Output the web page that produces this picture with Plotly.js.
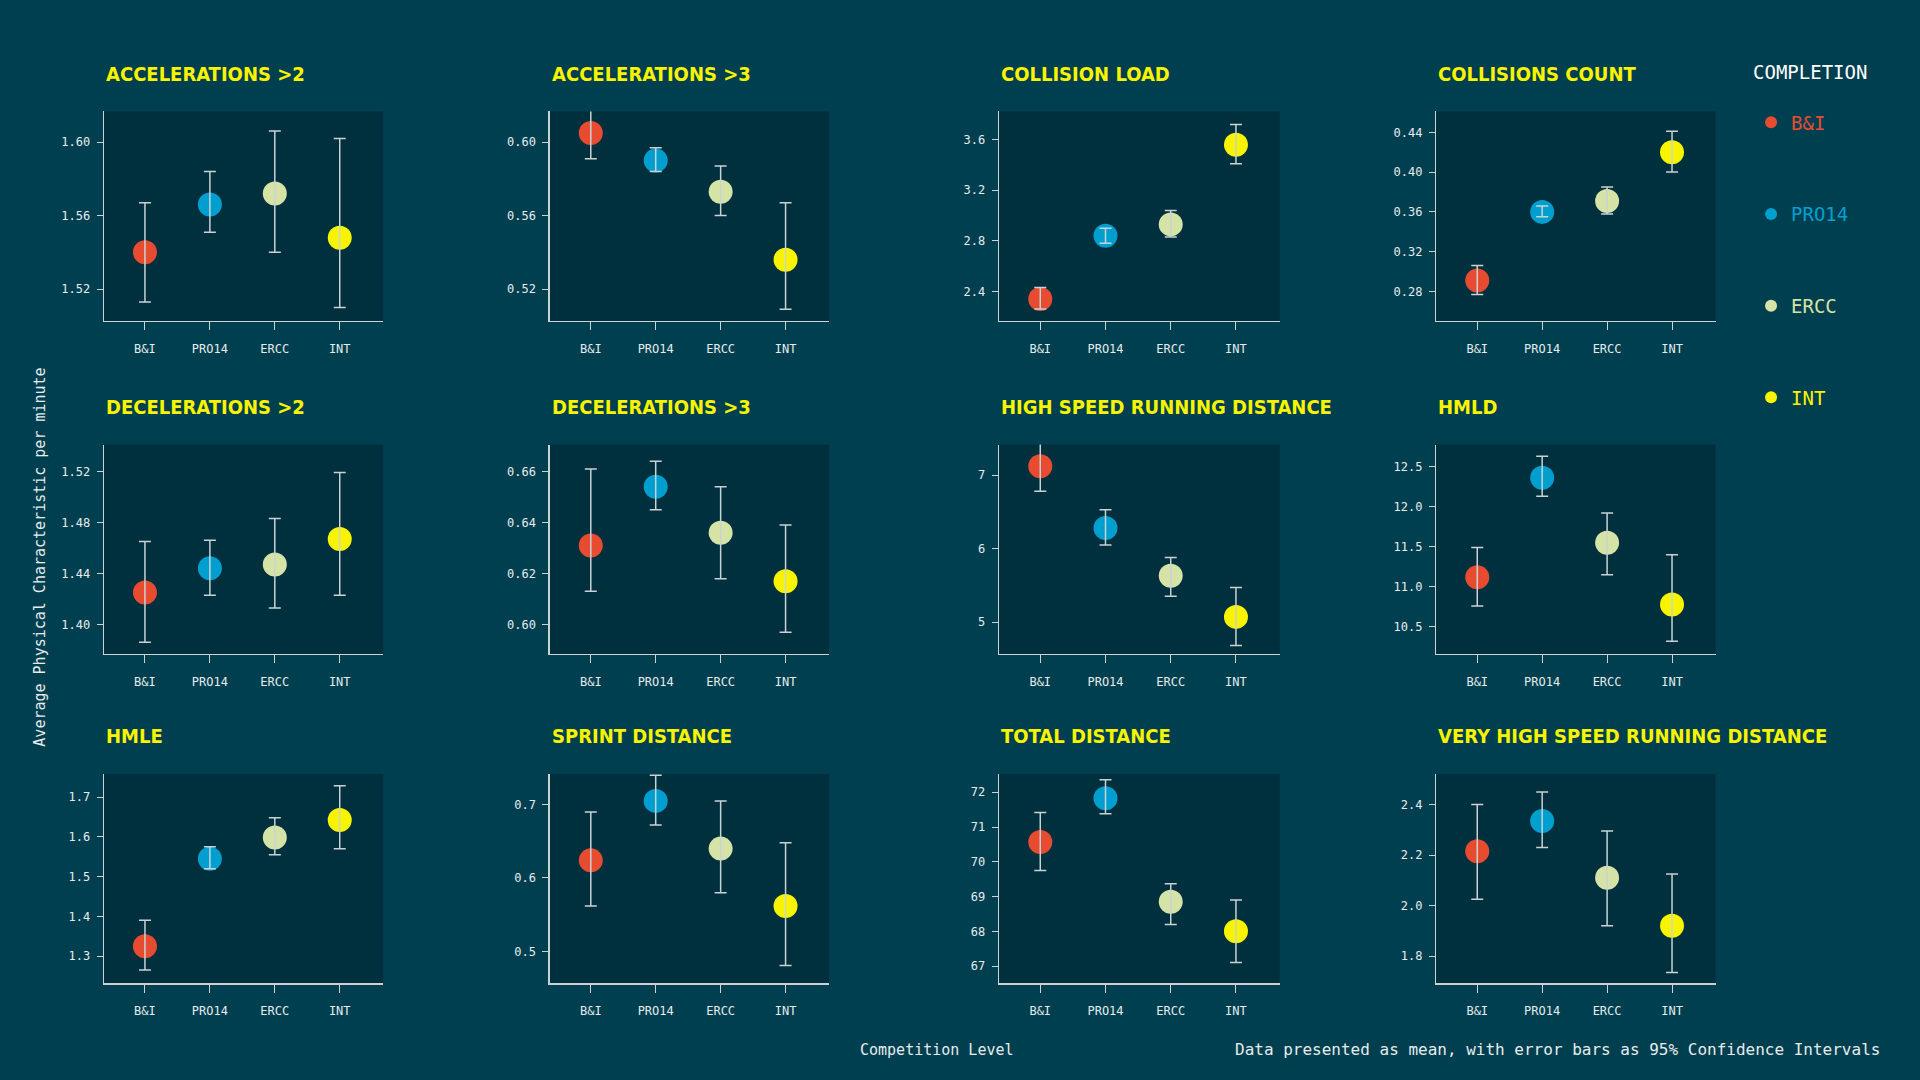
<!DOCTYPE html>
<html>
<head>
<meta charset="utf-8">
<script src="https://cdn.plot.ly/plotly-3.0.1.min.js"></script>
<style>html,body{margin:0;padding:0;background:#003f50;}#chart{width:1920px;height:1080px;}</style>
</head>
<body>
<div id="chart"></div>
<script>
const levels = ['B&I', 'PRO14', 'ERCC', 'INT'];
const levelColors = ['#e84c30', '#009fd0', '#d6e3a6', '#f8f400'];

const metrics = [
	'ACCELERATIONS >2', 'ACCELERATIONS >3', 'COLLISION LOAD', 'COLLISIONS COUNT',
	'DECELERATIONS >2', 'DECELERATIONS >3', 'HIGH SPEED RUNNING DISTANCE', 'HMLD',
	'HMLE', 'SPRINT DISTANCE', 'TOTAL DISTANCE', 'VERY HIGH SPEED RUNNING DISTANCE'
];

// mean per metric, order B&I, PRO14, ERCC, INT
const means = [
	[1.540, 1.566, 1.572, 1.548],
	[0.605, 0.590, 0.573, 0.536],
	[2.34, 2.84, 2.93, 3.56],
	[0.291, 0.360, 0.371, 0.420],
	[1.425, 1.444, 1.447, 1.467],
	[0.631, 0.654, 0.636, 0.617],
	[7.12, 6.28, 5.63, 5.07],
	[11.12, 12.36, 11.55, 10.78],
	[1.325, 1.545, 1.598, 1.642],
	[0.624, 0.705, 0.640, 0.562],
	[70.57, 71.83, 68.85, 68.00],
	[2.215, 2.335, 2.110, 1.920]
];
const lower = [
	[1.513, 1.551, 1.540, 1.510],
	[0.591, 0.584, 0.560, 0.509],
	[2.26, 2.78, 2.83, 3.41],
	[0.277, 0.355, 0.358, 0.400],
	[1.386, 1.423, 1.413, 1.423],
	[0.613, 0.645, 0.618, 0.597],
	[6.78, 6.05, 5.35, 4.68],
	[10.76, 12.13, 11.15, 10.32],
	[1.265, 1.520, 1.555, 1.570],
	[0.562, 0.672, 0.580, 0.481],
	[69.75, 71.38, 68.20, 67.10],
	[2.025, 2.230, 1.920, 1.735]
];
const upper = [
	[1.567, 1.584, 1.606, 1.602],
	[0.618, 0.597, 0.587, 0.567],
	[2.43, 2.90, 3.04, 3.72],
	[0.306, 0.366, 0.385, 0.441],
	[1.465, 1.466, 1.483, 1.519],
	[0.661, 0.664, 0.654, 0.639],
	[7.45, 6.53, 5.88, 5.47],
	[11.49, 12.63, 11.92, 11.40],
	[1.390, 1.575, 1.648, 1.728],
	[0.690, 0.740, 0.705, 0.648],
	[71.42, 72.36, 69.37, 68.90],
	[2.400, 2.450, 2.295, 2.125]
];
const yRanges = [
	[1.5027, 1.6167], [0.5027, 0.6167], [2.166, 3.824], [0.2504, 0.461],
	[1.377, 1.541], [0.5885, 0.6706], [4.567, 7.417], [10.164, 12.775],
	[1.232, 1.758], [0.4567, 0.7417], [66.507, 72.528], [1.693, 2.521]
];
const yTicks = [
	[1.52, 1.56, 1.60], [0.52, 0.56, 0.60], [2.4, 2.8, 3.2, 3.6], [0.28, 0.32, 0.36, 0.40, 0.44],
	[1.40, 1.44, 1.48, 1.52], [0.60, 0.62, 0.64, 0.66], [5, 6, 7], [10.5, 11.0, 11.5, 12.0, 12.5],
	[1.3, 1.4, 1.5, 1.6, 1.7], [0.5, 0.6, 0.7], [67, 68, 69, 70, 71, 72], [1.8, 2.0, 2.2, 2.4]
];
const yTickText = [
	['1.52', '1.56', '1.60'], ['0.52', '0.56', '0.60'], ['2.4', '2.8', '3.2', '3.6'], ['0.28', '0.32', '0.36', '0.40', '0.44'],
	['1.40', '1.44', '1.48', '1.52'], ['0.60', '0.62', '0.64', '0.66'], ['5', '6', '7'], ['10.5', '11.0', '11.5', '12.0', '12.5'],
	['1.3', '1.4', '1.5', '1.6', '1.7'], ['0.5', '0.6', '0.7'], ['67', '68', '69', '70', '71', '72'], ['1.8', '2.0', '2.2', '2.4']
];

const colDomains = [[0.0542, 0.1996], [0.2864, 0.4318], [0.5204, 0.6665], [0.7481, 0.8935]];
const rowDomains = [[0.7029, 0.8968], [0.3946, 0.5884], [0.0896, 0.2834]];

const mono = 'DejaVu Sans Mono, monospace';
const axisColor = '#c9d3d4';
const data = [];
const errorTraces = [];
const layout = {
	width: 1920,
	height: 1080,
	paper_bgcolor: '#003f50',
	plot_bgcolor: '#002f3e',
	margin: { t: 0, l: 0, r: 0, b: 0 },
	font: { family: mono, color: '#e6ecec', size: 12 },
	showlegend: true,
	legend: {
		x: 0.912, y: 0.95, xanchor: 'left', yanchor: 'top',
		bgcolor: 'rgba(0,0,0,0)',
		font: { family: mono, size: 19 },
		title: { text: 'COMPLETION<br> ', font: { family: mono, size: 19, color: '#ffffff' } },
		tracegroupgap: 64,
		itemsizing: 'constant',
	},
	annotations: [],
};

metrics.forEach((metric, m) => {
	const row = Math.floor(m / 4);
	const col = m % 4;
	const n = m + 1;
	const sfx = n === 1 ? '' : String(n);

	levels.forEach((level, i) => {
		data.push({
			type: 'scatter',
			mode: 'markers',
			x: [level],
			y: [means[m][i]],
			xaxis: 'x' + sfx,
			yaxis: 'y' + sfx,
			name: '<span style="color:' + levelColors[i] + '">' + level + '</span>',
			legendgroup: level,
			showlegend: m === 0,
			marker: { color: levelColors[i], size: 24 },
			hoverinfo: 'x+y',
		});
	});

	// error bars drawn on top of the dots
	errorTraces.push({
		type: 'scatter',
		mode: 'markers',
		x: levels,
		y: means[m],
		xaxis: 'x' + sfx,
		yaxis: 'y' + sfx,
		showlegend: false,
		marker: { size: 1, opacity: 0 },
		error_y: {
			type: 'data',
			symmetric: false,
			array: upper[m].map((u, i) => u - means[m][i]),
			arrayminus: lower[m].map((l, i) => means[m][i] - l),
			color: axisColor,
			thickness: 1.5,
			width: 6,
		},
		hoverinfo: 'skip',
	});

	layout['xaxis' + sfx] = {
		domain: colDomains[col],
		anchor: 'y' + sfx,
		type: 'category',
		categoryarray: levels,
		range: [-0.63, 3.67],
		showline: true, linecolor: axisColor, linewidth: 1.5,
		ticks: 'outside', ticklen: 8, tickcolor: axisColor,
		ticklabelstandoff: 8,
		showgrid: false, zeroline: false,
		tickfont: { family: mono, size: 12, color: '#e6ecec' },
		fixedrange: true,
	};
	layout['yaxis' + sfx] = {
		domain: rowDomains[row],
		anchor: 'x' + sfx,
		range: yRanges[m],
		tickvals: yTicks[m],
		ticktext: yTickText[m],
		showline: true, linecolor: axisColor, linewidth: 1.5,
		ticks: 'outside', ticklen: 6, tickcolor: axisColor,
		ticklabelstandoff: 4,
		showgrid: false, zeroline: false,
		tickfont: { family: mono, size: 12, color: '#e6ecec' },
		fixedrange: true,
	};

	layout.annotations.push({
		xref: 'paper', yref: 'paper',
		x: colDomains[col][0], y: rowDomains[row][1] + 0.022,
		xanchor: 'left', yanchor: 'bottom',
		text: '<b>' + metric + '</b>',
		showarrow: false,
		font: { family: 'DejaVu Sans Condensed, Liberation Sans Narrow, sans-serif', size: 20, color: '#f8f400' },
	});
});

layout.annotations.push(
	{
		xref: 'paper', yref: 'paper', x: 0.0153, y: 0.484,
		text: 'Average Physical Characteristic per minute', textangle: -90,
		showarrow: false, font: { family: mono, size: 15, color: '#e6ecec' },
	},
	{
		xref: 'paper', yref: 'paper', x: 0.488, y: 0.018,
		text: 'Competition Level', showarrow: false,
		font: { family: mono, size: 15, color: '#e6ecec' },
	},
	{
		xref: 'paper', yref: 'paper', x: 0.980, y: 0.018, xanchor: 'right',
		text: 'Data presented as mean, with error bars as 95% Confidence Intervals', showarrow: false,
		font: { family: mono, size: 16, color: '#e6ecec' },
	}
);

Plotly.newPlot('chart', data.concat(errorTraces), layout, { displayModeBar: false, staticPlot: true });
</script>
</body>
</html>
